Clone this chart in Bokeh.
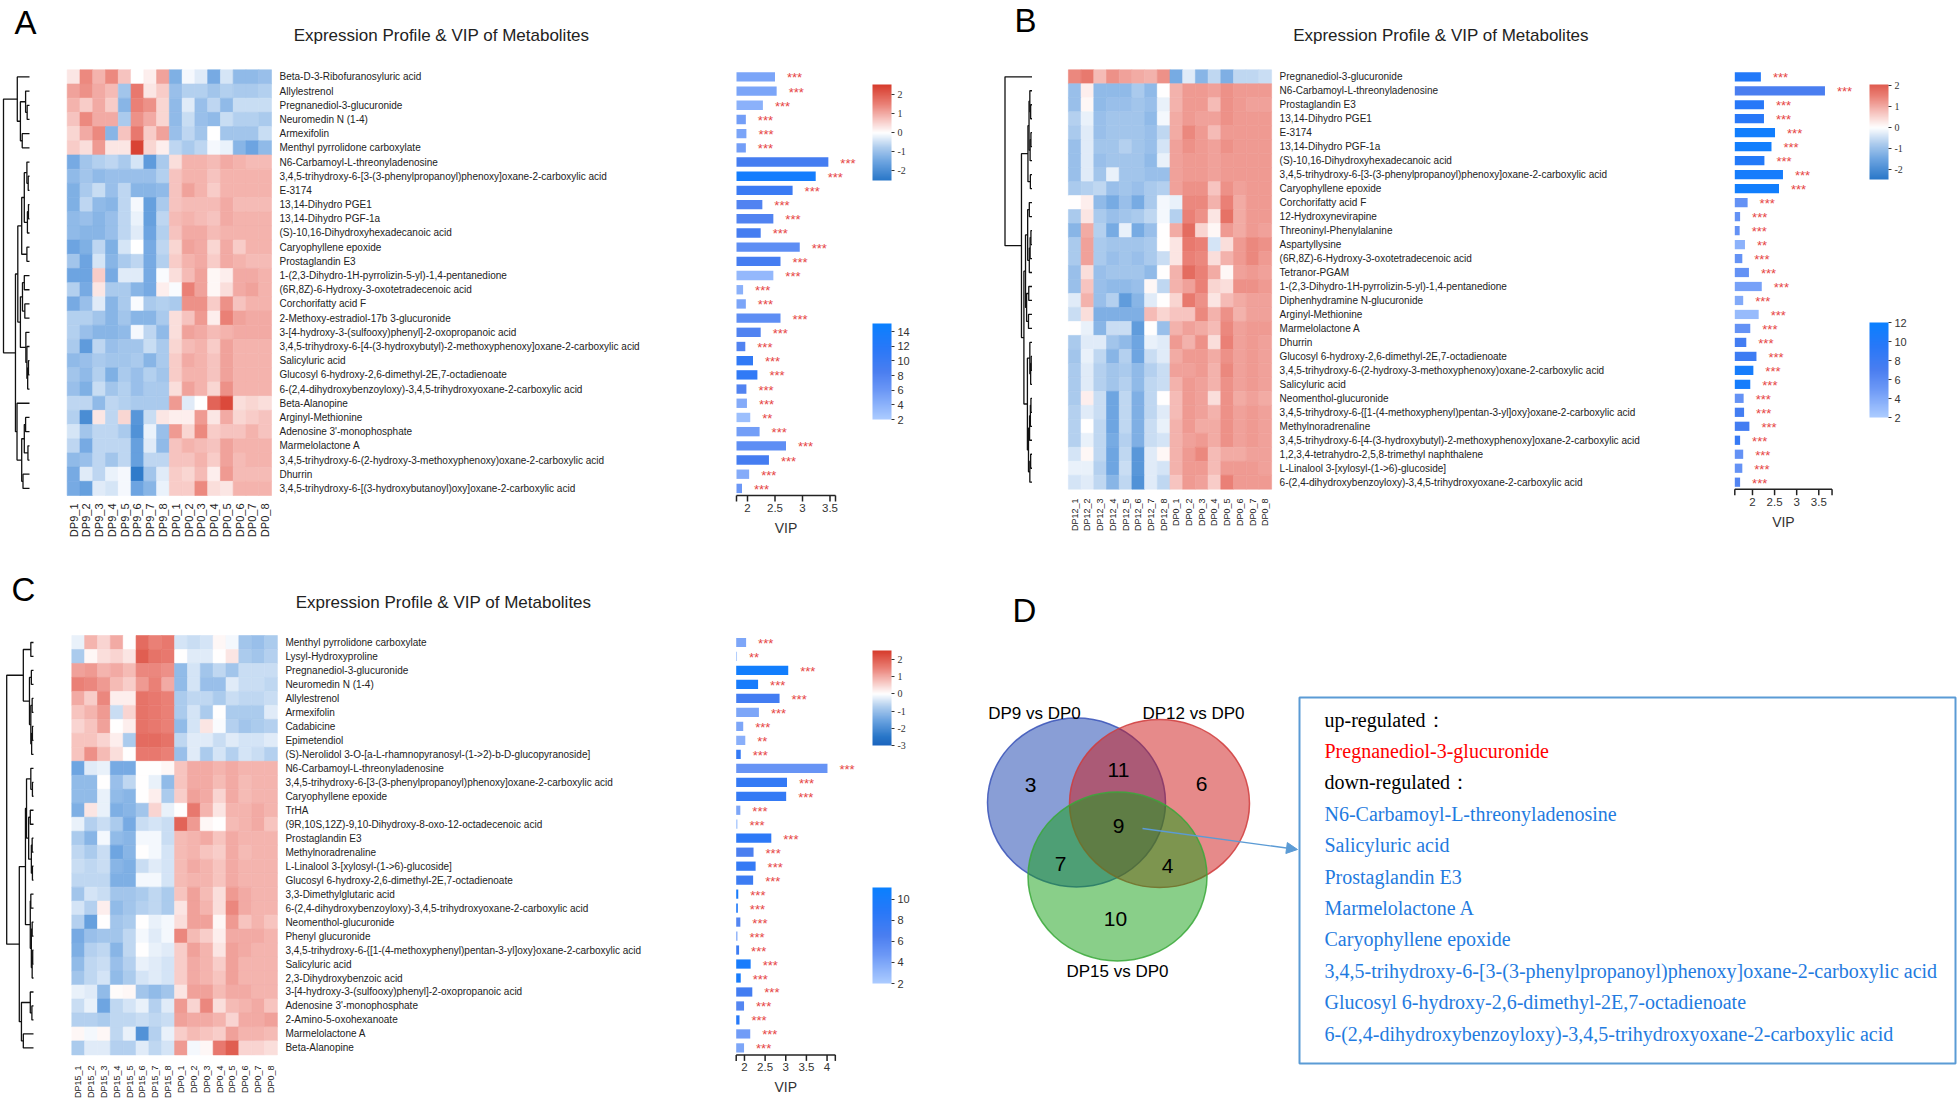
import numpy as np
from bokeh.plotting import figure
from bokeh.models import (Range1d, LinearColorMapper, ColorBar, FixedTicker,
                          ColumnDataSource, Arrow, NormalHead)
from bokeh.layouts import row, column
from bokeh.transform import transform
from bokeh.core.properties import value
from bokeh.embed import file_html
from bokeh.resources import INLINE

# ---------------------------------------------------------------- data
A_SAMPLES = ["DP9_1", "DP9_2", "DP9_3", "DP9_4", "DP9_5", "DP9_6", "DP9_7", "DP9_8",
             "DP0_1", "DP0_2", "DP0_3", "DP0_4", "DP0_5", "DP0_6", "DP0_7", "DP0_8"]
B_SAMPLES = ["DP12_1", "DP12_2", "DP12_3", "DP12_4", "DP12_5", "DP12_6", "DP12_7", "DP12_8",
             "DP0_1", "DP0_2", "DP0_3", "DP0_4", "DP0_5", "DP0_6", "DP0_7", "DP0_8"]
C_SAMPLES = ["DP15_1", "DP15_2", "DP15_3", "DP15_4", "DP15_5", "DP15_6", "DP15_7", "DP15_8",
             "DP0_1", "DP0_2", "DP0_3", "DP0_4", "DP0_5", "DP0_6", "DP0_7", "DP0_8"]

A_METABOLITES = [
    "Beta-D-3-Ribofuranosyluric acid", "Allylestrenol", "Pregnanediol-3-glucuronide",
    "Neuromedin N (1-4)", "Armexifolin", "Menthyl pyrrolidone carboxylate",
    "N6-Carbamoyl-L-threonyladenosine",
    "3,4,5-trihydroxy-6-[3-(3-phenylpropanoyl)phenoxy]oxane-2-carboxylic acid",
    "E-3174", "13,14-Dihydro PGE1", "13,14-Dihydro PGF-1a",
    "(S)-10,16-Dihydroxyhexadecanoic acid", "Caryophyllene epoxide", "Prostaglandin E3",
    "1-(2,3-Dihydro-1H-pyrrolizin-5-yl)-1,4-pentanedione",
    "(6R,8Z)-6-Hydroxy-3-oxotetradecenoic acid", "Corchorifatty acid F",
    "2-Methoxy-estradiol-17b 3-glucuronide",
    "3-[4-hydroxy-3-(sulfooxy)phenyl]-2-oxopropanoic acid",
    "3,4,5-trihydroxy-6-[4-(3-hydroxybutyl)-2-methoxyphenoxy]oxane-2-carboxylic acid",
    "Salicyluric acid", "Glucosyl 6-hydroxy-2,6-dimethyl-2E,7-octadienoate",
    "6-(2,4-dihydroxybenzoyloxy)-3,4,5-trihydroxyoxane-2-carboxylic acid",
    "Beta-Alanopine", "Arginyl-Methionine", "Adenosine 3'-monophosphate", "Marmelolactone A",
    "3,4,5-trihydroxy-6-(2-hydroxy-3-methoxyphenoxy)oxane-2-carboxylic acid", "Dhurrin",
    "3,4,5-trihydroxy-6-[(3-hydroxybutanoyl)oxy]oxane-2-carboxylic acid"]
A_VIP = [2.50, 2.53, 2.28, 1.97, 1.98, 1.97, 3.47, 3.24, 2.82, 2.27, 2.47, 2.24, 2.95, 2.60, 2.47,
         1.92, 1.97, 2.60, 2.24, 1.96, 2.10, 2.18, 1.98, 1.99, 2.05, 2.22, 2.70, 2.39, 2.03, 1.90]
A_SHADE = [5, 5, 4, 5.5, 5, 5.5, 9, 14, 10, 8, 8, 9, 7, 9, 3.5, 4, 5, 7, 8, 8, 11, 11, 8, 4.5, 3,
           5.5, 7, 9, 4.5, 6]
A_STARS = ["***"] * 24 + ["**"] + ["***"] * 5
A_Z = [
    [0.3, 1.4, 0.9, 1.4, 0.7, 0.0, 0.2, 1.1, -1.3, -0.1, -0.3, -1.4, -0.4, -1.1, -1.1, -1.0],
    [1.1, 1.3, 1.0, 0.8, -0.9, 1.6, 0.3, 0.6, -1.0, -0.7, -0.7, -0.9, -0.7, -0.8, -0.8, -0.7],
    [0.9, 0.6, 1.0, 0.6, -1.2, 1.5, 1.3, 0.5, -1.1, -0.3, -1.0, -0.6, -1.1, -0.5, -0.5, -0.5],
    [0.7, 1.4, 1.0, 1.0, -0.8, 1.3, 1.0, 0.5, -1.1, -0.5, -1.0, -1.1, -0.5, -0.7, -0.7, -0.8],
    [0.5, 1.0, 1.4, -1.2, 0.7, 1.6, 0.6, 1.1, -1.0, -0.6, -0.9, 0.0, -0.9, -0.9, -0.9, -0.5],
    [0.6, 0.4, 1.2, 0.3, 0.3, 2.4, 0.5, 0.2, -0.6, -0.8, -0.6, -0.1, -0.2, -1.2, -1.5, -1.1],
    [-1.4, -0.9, -0.7, -0.6, -0.8, -0.4, -1.7, -0.8, 0.4, 0.9, 0.9, 0.8, 1.0, 0.9, 0.8, 0.8],
    [-1.1, -0.9, -1.1, -1.0, -1.0, -1.0, -1.0, -0.7, 0.7, 0.9, 0.9, 0.7, 0.9, 0.9, 0.9, 0.9],
    [-1.3, -0.8, -0.5, -1.0, -0.6, -1.2, -1.2, -1.1, 0.7, 1.1, 0.9, 0.6, 0.9, 0.9, 0.9, 0.9],
    [-1.3, -0.6, -1.1, -1.2, -0.6, -0.1, -1.6, -0.8, 0.7, 0.8, 0.8, 0.8, 1.0, 0.8, 0.8, 0.8],
    [-1.1, -1.0, -1.2, -1.0, -0.6, -0.2, -1.6, -0.6, 0.8, 0.9, 0.8, 0.7, 1.0, 0.9, 0.9, 0.9],
    [-1.1, -1.2, -1.2, -1.0, -0.6, -0.3, -1.5, -0.7, 0.7, 1.0, 1.0, 0.8, 0.9, 0.9, 0.9, 0.9],
    [-1.5, -1.3, -0.6, -1.3, -0.4, 0.0, -1.4, -0.6, 0.5, 1.1, 1.0, 0.5, 1.0, 0.6, 0.9, 0.9],
    [-0.9, -1.5, -0.4, -1.2, -0.8, -0.6, -1.4, -0.7, 0.6, 0.9, 1.0, 0.6, 1.0, 0.9, 0.8, 0.8],
    [-1.5, -1.5, 0.6, -1.4, -0.3, -0.3, -1.4, -0.05, 0.4, 0.8, 1.1, 0.1, 0.2, 1.0, 1.0, 0.9],
    [-0.7, -1.4, 0.3, -0.8, -0.8, -1.2, -1.4, 0.2, -0.05, 1.5, 1.1, 0.1, 0.4, 1.0, 1.1, 0.9],
    [-1.4, -1.0, -0.3, -1.2, -0.8, -0.05, -0.8, -0.7, -0.8, 1.3, 1.3, 0.6, 1.3, 0.7, 0.9, 0.9],
    [-0.7, -0.7, -0.9, -1.2, -0.9, -1.2, -1.2, -0.8, 0.4, 0.7, 1.2, 0.2, 1.5, 1.1, 1.0, 1.0],
    [-0.7, -1.0, -1.2, -1.2, -1.1, -0.1, -0.6, -1.1, 0.4, 1.1, 1.0, 0.8, 0.9, 1.0, 1.0, 1.0],
    [-0.8, -1.7, -0.6, -1.0, -0.9, -0.9, -0.5, -0.8, 0.5, 0.8, 0.9, 0.6, 1.1, 0.9, 0.9, 0.9],
    [-1.1, -1.0, -0.8, -0.9, -0.9, -0.8, -1.2, -0.8, 0.6, 1.0, 0.9, 0.7, 1.1, 0.9, 0.9, 0.9],
    [-0.9, -1.1, -0.7, -1.3, -0.8, -1.0, -0.7, -0.9, 0.6, 0.9, 0.9, 0.7, 1.1, 0.9, 0.9, 0.9],
    [-1.0, -1.3, -0.5, -0.9, -0.7, -1.0, -0.8, -0.8, 0.4, 1.1, 0.9, 0.5, 1.3, 0.9, 0.9, 0.9],
    [-0.6, -0.6, -1.1, -0.6, -0.7, -0.8, -0.8, -0.8, 1.2, -0.3, 0.0, 1.9, 2.3, 0.4, 0.5, 0.4],
    [-0.7, -2.0, 0.3, -0.6, 0.5, -1.8, -0.5, 0.3, 0.2, 0.2, 1.2, 0.3, 1.0, 0.5, 0.6, 0.7],
    [-0.4, -0.9, -0.6, -0.6, -0.8, -1.9, -0.2, -1.0, 1.2, 0.5, 1.4, 0.6, 0.7, 0.7, 0.9, 0.7],
    [-0.6, -1.4, -0.6, -0.6, -0.6, -1.6, -0.3, -1.1, 0.7, 0.9, 0.8, 0.7, 1.1, 0.9, 0.9, 0.9],
    [-1.1, -1.0, -0.6, -0.9, -0.6, -1.6, -0.6, -0.6, 0.7, 0.7, 0.9, 0.6, 1.1, 0.8, 0.9, 0.9],
    [-1.4, -0.3, -0.6, -0.2, -0.1, -2.4, -0.9, -0.3, 0.6, 0.5, 0.8, 0.2, 1.2, 0.8, 0.8, 0.8],
    [-1.4, -1.6, -0.3, -0.4, -0.1, -1.5, -1.2, -0.2, 0.6, 0.6, 1.4, 0.4, 0.3, 0.9, 0.9, 0.9]]
A_TREE = [(2, 3, 0.09), (1, 30, 0.15), (4, 5, 0.28), (31, 32, 0.35), (0, 33, 0.47),
          (7, 8, 0.05), (6, 35, 0.10), (9, 10, 0.04), (37, 11, 0.08), (12, 13, 0.10),
          (36, 38, 0.20), (40, 39, 0.30), (14, 15, 0.20), (16, 17, 0.18), (42, 43, 0.27),
          (20, 21, 0.04), (45, 22, 0.07), (19, 46, 0.10), (18, 47, 0.14), (44, 48, 0.35),
          (41, 49, 0.45), (24, 25, 0.15), (26, 27, 0.06), (51, 52, 0.20), (28, 29, 0.25),
          (53, 54, 0.30), (23, 55, 0.48), (50, 56, 0.54), (34, 57, 1.0)]

B_METABOLITES = [
    "Pregnanediol-3-glucuronide", "N6-Carbamoyl-L-threonyladenosine", "Prostaglandin E3",
    "13,14-Dihydro PGE1", "E-3174", "13,14-Dihydro PGF-1a",
    "(S)-10,16-Dihydroxyhexadecanoic acid",
    "3,4,5-trihydroxy-6-[3-(3-phenylpropanoyl)phenoxy]oxane-2-carboxylic acid",
    "Caryophyllene epoxide", "Corchorifatty acid F", "12-Hydroxynevirapine",
    "Threoninyl-Phenylalanine", "Aspartyllysine", "(6R,8Z)-6-Hydroxy-3-oxotetradecenoic acid",
    "Tetranor-PGAM", "1-(2,3-Dihydro-1H-pyrrolizin-5-yl)-1,4-pentanedione",
    "Diphenhydramine N-glucuronide", "Arginyl-Methionine", "Marmelolactone A", "Dhurrin",
    "Glucosyl 6-hydroxy-2,6-dimethyl-2E,7-octadienoate",
    "3,4,5-trihydroxy-6-(2-hydroxy-3-methoxyphenoxy)oxane-2-carboxylic acid",
    "Salicyluric acid", "Neomenthol-glucuronide",
    "3,4,5-trihydroxy-6-{[1-(4-methoxyphenyl)pentan-3-yl]oxy}oxane-2-carboxylic acid",
    "Methylnoradrenaline",
    "3,4,5-trihydroxy-6-[4-(3-hydroxybutyl)-2-methoxyphenoxy]oxane-2-carboxylic acid",
    "1,2,3,4-tetrahydro-2,5,8-trimethyl naphthalene",
    "L-Linalool 3-[xylosyl-(1->6)-glucoside]",
    "6-(2,4-dihydroxybenzoyloxy)-3,4,5-trihydroxyoxane-2-carboxylic acid"]
B_VIP = [2.19, 3.64, 2.26, 2.26, 2.51, 2.43, 2.27, 2.69, 2.60, 1.89, 1.72, 1.71, 1.83, 1.77, 1.92,
         2.21, 1.79, 2.14, 1.95, 1.86, 2.09, 2.02, 1.95, 1.80, 1.81, 1.93, 1.72, 1.79, 1.77, 1.72]
B_SHADE = [10, 7, 9.5, 9.5, 11.5, 11.5, 10, 11, 11.5, 5.5, 5.5, 5.5, 3.5, 5.5, 5.5, 4.5, 4, 3,
           5.5, 7.5, 8, 11, 11, 5.5, 7.5, 7.5, 8.5, 5.5, 5.5, 6.5]
B_STARS = ["***"] * 12 + ["**"] + ["***"] * 17
B_Z = [
    [1.4, 1.6, 0.8, 1.3, 1.1, 1.0, 0.9, 1.3, -1.4, -0.3, -1.2, -0.6, -1.3, -0.6, -0.6, -0.5],
    [-1.0, 0.2, -1.1, -1.1, -1.1, -0.8, -1.1, 0.0, 0.9, 1.2, 1.2, 1.1, 1.3, 1.2, 1.2, 1.2],
    [-1.0, 0.1, -1.1, -1.0, -1.0, -0.9, -1.0, -0.2, 0.9, 1.2, 1.2, 0.8, 1.3, 1.2, 1.1, 1.1],
    [-0.7, -0.2, -1.0, -0.9, -0.9, -0.9, -1.1, -0.1, 1.0, 1.2, 1.1, 1.1, 1.3, 1.2, 1.2, 1.2],
    [-0.8, -0.3, -1.0, -0.9, -0.9, -0.9, -1.0, -0.6, 1.0, 1.4, 1.2, 0.8, 1.2, 1.2, 1.2, 1.2],
    [-1.0, -0.3, -0.9, -0.9, -0.7, -0.9, -1.0, -0.4, 1.1, 1.3, 1.2, 1.1, 1.3, 1.2, 1.2, 1.2],
    [-1.0, -0.3, -1.0, -0.9, -0.9, -0.9, -1.1, -0.2, 1.1, 1.2, 1.2, 1.1, 1.2, 1.2, 1.2, 1.2],
    [-1.0, -0.3, -0.9, -0.2, -0.9, -0.9, -1.0, -1.0, 1.1, 1.2, 1.2, 1.1, 1.2, 1.2, 1.2, 1.2],
    [-0.8, -0.7, -0.6, -1.0, -0.9, -1.0, -0.8, -0.7, 1.1, 1.3, 1.3, 0.7, 1.3, 1.1, 1.2, 1.2],
    [0.0, 0.2, -1.1, -1.4, -1.0, -1.4, -0.8, -0.1, -0.2, 1.4, 1.4, 0.9, 1.5, 1.0, 1.2, 1.2],
    [-0.8, 0.3, -0.8, -1.0, -0.9, -0.8, -0.6, -0.1, -0.7, 1.5, 1.3, 0.3, 1.7, 1.0, 1.2, 1.2],
    [-1.2, 1.0, -0.7, -1.4, -0.2, -1.4, -1.0, 0.0, 1.0, 1.8, 0.5, 0.1, 1.2, 1.0, 1.2, 1.1],
    [-0.8, 1.1, -0.8, -0.9, -0.9, -0.9, -0.8, 0.0, 0.3, 1.6, 1.5, -0.4, 0.4, 1.2, 1.4, 1.3],
    [-0.8, 1.1, -0.8, -1.0, -0.9, -1.0, -0.8, -0.5, 0.3, 1.5, 1.4, 0.4, 0.9, 1.2, 1.4, 1.2],
    [-1.0, 0.4, -1.0, -0.9, -0.9, -0.9, -1.1, 0.0, 0.9, 1.8, 1.5, 1.0, 0.1, 1.1, 1.2, 1.1],
    [-1.0, 0.7, -1.0, -1.1, -1.1, -1.0, 0.1, -0.6, 0.9, 1.1, 1.5, 0.5, 0.4, 1.3, 1.3, 1.2],
    [-0.3, 0.9, -1.0, -0.7, -1.7, -1.2, -0.3, 0.0, 0.5, 1.6, 1.3, 0.3, 0.8, 1.0, 1.1, 1.1],
    [-0.5, 0.4, -1.3, -1.3, -1.3, -1.3, 0.8, 0.5, 0.7, 0.7, 1.4, 0.9, 1.3, 0.9, 1.1, 1.1],
    [0.0, -0.2, -1.2, -0.5, -0.5, -1.7, 0.0, -1.0, 0.9, 1.1, 1.0, 0.8, 1.4, 1.1, 1.2, 1.2],
    [-0.8, -0.3, -0.3, -0.9, -1.1, -1.5, -0.2, -0.3, 1.2, 0.9, 1.3, 0.4, 1.5, 1.1, 1.2, 1.1],
    [-0.9, -0.2, -0.6, -1.2, -0.7, -1.5, -0.5, -0.3, 1.0, 1.2, 1.2, 1.0, 1.3, 1.1, 1.2, 1.1],
    [-0.8, -0.3, -0.7, -0.9, -0.8, -1.1, -0.7, -0.5, 1.1, 1.1, 1.2, 0.9, 1.4, 1.1, 1.2, 1.1],
    [-0.8, -0.3, -0.7, -0.9, -0.7, -1.1, -0.6, -0.5, 0.9, 1.2, 1.1, 0.9, 1.3, 1.1, 1.2, 1.1],
    [-0.8, 0.2, -0.5, -1.5, -0.6, -1.3, -0.6, 0.0, 0.8, 1.2, 1.1, 0.4, 1.3, 1.0, 1.1, 1.0],
    [-0.7, -0.3, -0.5, -1.5, -0.6, -1.3, -0.6, -0.3, 0.8, 1.2, 1.1, 0.9, 1.3, 1.1, 1.2, 1.1],
    [-0.7, 0.0, -0.6, -1.5, -0.6, -1.3, -0.5, -0.2, 0.9, 1.2, 1.0, 1.0, 1.3, 1.1, 1.2, 1.1],
    [-0.7, -0.2, -0.6, -1.4, -0.7, -1.3, -0.5, -0.4, 0.9, 1.1, 1.2, 1.0, 1.3, 1.1, 1.2, 1.1],
    [-0.4, 0.1, -0.6, -1.5, -0.6, -1.8, -0.3, 0.1, 0.9, 1.2, 1.4, 0.8, 1.0, 1.0, 1.1, 1.1],
    [-0.2, -0.2, -0.7, -1.5, -0.5, -1.8, -0.3, -0.4, 0.9, 1.2, 1.2, 0.8, 1.2, 1.2, 1.2, 1.1],
    [-0.4, -0.3, -0.6, -1.2, -0.6, -1.9, -0.3, -0.6, 0.7, 1.2, 1.1, 0.6, 1.5, 1.2, 1.2, 1.2]]
B_TREE = [(2, 3, 0.05), (1, 30, 0.08), (4, 5, 0.04), (32, 6, 0.07), (31, 33, 0.11),
          (7, 8, 0.06), (34, 35, 0.15), (9, 10, 0.10), (11, 12, 0.04), (38, 13, 0.07),
          (39, 14, 0.10), (37, 40, 0.16), (15, 16, 0.12), (17, 18, 0.13), (42, 43, 0.20),
          (41, 44, 0.24), (20, 21, 0.03), (46, 22, 0.05), (19, 47, 0.08), (23, 24, 0.04),
          (49, 25, 0.06), (50, 26, 0.09), (27, 28, 0.05), (52, 29, 0.08), (51, 53, 0.13),
          (48, 54, 0.17), (45, 55, 0.30), (36, 56, 0.39), (0, 57, 1.0)]

C_METABOLITES = [
    "Menthyl pyrrolidone carboxylate", "Lysyl-Hydroxyproline", "Pregnanediol-3-glucuronide",
    "Neuromedin N (1-4)", "Allylestrenol", "Armexifolin", "Cadabicine", "Epimetendiol",
    "(S)-Nerolidol 3-O-[a-L-rhamnopyranosyl-(1->2)-b-D-glucopyranoside]",
    "N6-Carbamoyl-L-threonyladenosine",
    "3,4,5-trihydroxy-6-[3-(3-phenylpropanoyl)phenoxy]oxane-2-carboxylic acid",
    "Caryophyllene epoxide", "TrHA", "(9R,10S,12Z)-9,10-Dihydroxy-8-oxo-12-octadecenoic acid",
    "Prostaglandin E3", "Methylnoradrenaline", "L-Linalool 3-[xylosyl-(1->6)-glucoside]",
    "Glucosyl 6-hydroxy-2,6-dimethyl-2E,7-octadienoate", "3,3-Dimethylglutaric acid",
    "6-(2,4-dihydroxybenzoyloxy)-3,4,5-trihydroxyoxane-2-carboxylic acid",
    "Neomenthol-glucuronide", "Phenyl glucuronide",
    "3,4,5-trihydroxy-6-{[1-(4-methoxyphenyl)pentan-3-yl]oxy}oxane-2-carboxylic acid",
    "Salicyluric acid", "2,3-Dihydroxybenzoic acid",
    "3-[4-hydroxy-3-(sulfooxy)phenyl]-2-oxopropanoic acid", "Adenosine 3'-monophosphate",
    "2-Amino-5-oxohexanoate", "Marmelolactone A", "Beta-Alanopine"]
C_VIP = [2.04, 1.82, 3.06, 2.33, 2.85, 2.35, 1.97, 2.02, 1.91, 4.01, 3.03, 3.01, 1.90, 1.83, 2.65,
         2.22, 2.27, 2.21, 1.85, 1.84, 1.90, 1.83, 1.87, 2.15, 1.91, 2.19, 1.99, 1.88, 2.14, 1.99]
C_SHADE = [4, 2.5, 10.5, 10, 7, 4, 4, 3.5, 8, 5, 8, 8, 4, 2.5, 8.5, 6.5, 8, 7.5, 10, 9.5, 6, 4,
           7.5, 10, 10, 7, 6, 9, 4.5, 4]
C_STARS = ["***", "**"] + ["***"] * 5 + ["**"] + ["***"] * 22
C_Z = [
    [-0.2, 0.9, 0.5, 1.0, 0.0, 1.8, 1.5, 1.6, -0.4, -0.5, -0.4, 0.1, -0.1, -0.9, -1.0, -0.8],
    [-0.8, 0.1, 0.4, 0.5, 0.3, 2.0, 1.7, 1.6, 0.0, -0.3, -0.3, 0.0, 0.3, -0.8, -0.9, -0.7],
    [1.1, 1.2, 0.9, 1.0, 0.8, 1.4, 1.4, 1.3, -1.1, -0.4, -0.9, -0.6, -0.9, -0.5, -0.5, -0.5],
    [1.5, 1.4, 1.2, 0.8, 0.6, 1.2, 1.5, 1.0, -1.1, -0.4, -1.0, -1.0, -0.3, -0.5, -0.5, -0.6],
    [1.0, 0.6, 1.4, 0.2, 0.2, 1.7, 1.6, 1.5, -0.8, -0.6, -0.6, -0.8, -0.5, -0.6, -0.6, -0.5],
    [0.7, 0.9, 1.2, -0.5, 0.5, 1.7, 1.6, 1.5, -0.8, -0.4, -0.8, 0.0, -0.8, -0.8, -0.8, -0.3],
    [0.5, 0.7, 1.1, 0.0, 0.2, 1.7, 1.6, 1.5, -1.1, -0.4, 0.3, -0.05, -0.7, -0.9, -0.8, -0.7],
    [0.7, 0.7, 0.5, 0.2, -0.8, 1.8, 1.8, 1.7, -0.6, -0.3, -0.3, -0.5, -0.3, -0.4, -0.4, -0.3],
    [0.7, 1.3, 0.8, 0.4, 0.0, 1.6, 1.6, 1.5, -1.0, -0.3, -0.8, -0.4, -0.7, -0.4, -0.5, -0.7],
    [-1.5, -0.3, -0.2, -1.4, -1.4, 0.0, 0.0, 0.1, 0.7, 1.0, 1.0, 0.9, 1.0, 0.9, 0.9, 0.9],
    [-1.1, -1.1, 0.0, -1.0, -0.6, 0.0, -0.2, -1.1, 0.7, 1.0, 1.0, 0.8, 1.0, 0.8, 0.9, 0.9],
    [-1.1, -1.1, -0.2, -1.1, -1.2, 0.0, 0.2, -0.8, 0.6, 1.1, 1.0, 0.5, 1.0, 0.8, 0.9, 0.9],
    [-1.3, 0.3, -0.2, -1.3, -1.2, -0.9, 0.5, -0.2, 0.0, 1.6, 0.9, 0.3, 0.9, 0.9, 1.0, 0.9],
    [-0.2, -0.7, -0.5, -0.8, -1.4, -0.5, -0.4, -0.5, 1.9, 1.2, 0.1, 0.0, 0.8, 0.9, 1.0, 0.7],
    [-0.8, -1.2, -0.1, -1.1, -1.2, -0.1, -0.1, -0.5, 0.8, 0.9, 1.0, 0.7, 1.0, 0.9, 0.9, 0.9],
    [-0.6, -0.8, -0.5, -1.5, -1.2, 0.0, -0.1, -0.4, 0.8, 0.9, 0.7, 0.6, 1.0, 0.8, 0.9, 0.9],
    [-0.5, -0.6, -0.5, -1.2, -1.3, -0.5, -0.3, -0.4, 0.8, 1.0, 0.9, 0.7, 1.0, 0.9, 0.9, 0.9],
    [-0.6, -0.6, -0.6, -1.3, -1.3, -0.1, -0.1, -0.4, 0.8, 0.9, 0.9, 0.7, 1.0, 0.9, 0.9, 0.9],
    [-0.9, -0.4, -0.5, -0.9, -0.9, -0.8, -0.6, -0.8, 0.7, 1.1, 0.8, 0.4, 1.2, 1.0, 0.9, 0.9],
    [-0.4, -0.7, 0.2, -1.1, -0.9, -0.7, -0.6, -0.8, 0.3, 1.1, 0.9, 0.4, 1.4, 1.0, 0.9, 0.9],
    [-0.7, -1.6, 0.0, -0.9, -0.8, 0.0, -0.2, -0.1, 0.4, 1.1, 1.1, 0.1, 1.2, 0.7, 0.9, 0.7],
    [-1.4, -1.0, -0.9, -0.9, -0.6, -0.1, -0.3, -0.1, 1.4, 0.8, 0.6, 0.2, 1.0, 1.0, 1.0, 0.9],
    [-1.3, -0.7, -0.6, -1.2, -0.6, 0.0, -0.2, -0.3, 0.6, 1.1, 0.9, 0.3, 1.1, 1.0, 0.9, 0.9],
    [-1.1, -0.6, -0.5, -1.0, -0.7, -0.2, -0.3, -0.4, 0.6, 1.0, 0.9, 0.6, 1.1, 0.9, 0.9, 0.9],
    [-0.9, -0.6, -0.4, -1.1, -0.8, -0.4, -0.3, -0.4, 0.6, 1.0, 0.9, 0.7, 1.1, 0.9, 0.9, 0.9],
    [-0.2, -0.3, -1.1, 0.05, 0.1, -0.9, -1.1, -0.9, 0.3, 1.1, 1.1, 0.8, 1.0, 1.0, 0.9, 0.9],
    [-0.5, -0.2, -1.5, -0.6, -0.4, -0.2, -0.7, -0.3, 1.2, 0.5, 1.4, 0.4, 0.8, 0.9, 1.0, 0.7],
    [-0.7, -0.7, -0.8, -0.6, -0.6, -0.5, -0.6, -0.5, 1.1, 1.0, 1.0, 0.9, 0.5, 1.0, 1.0, 1.1],
    [0.1, -0.1, 0.1, -0.6, -0.2, -1.9, -0.7, -0.2, 0.6, 0.8, 0.7, 0.6, 1.1, 0.9, 0.9, 0.8],
    [-0.8, -0.3, -0.3, -0.7, -0.7, -0.3, -0.6, -0.4, 1.2, -0.1, 0.1, 1.6, 2.0, 0.5, 0.5, 0.4]]
C_TREE = [(0, 1, 0.10), (2, 3, 0.08), (4, 5, 0.05), (6, 7, 0.04), (33, 8, 0.07),
          (32, 34, 0.10), (31, 35, 0.15), (30, 36, 0.38), (10, 11, 0.04), (9, 38, 0.10),
          (12, 13, 0.12), (14, 15, 0.05), (16, 17, 0.04), (41, 42, 0.08), (40, 43, 0.18),
          (39, 44, 0.26), (18, 19, 0.10), (20, 21, 0.05), (22, 23, 0.03), (48, 24, 0.05),
          (47, 49, 0.08), (46, 50, 0.12), (45, 51, 0.30), (26, 27, 0.06), (25, 53, 0.12),
          (28, 29, 0.38), (54, 55, 0.45), (52, 56, 0.53), (37, 57, 1.0)]

VENN_SETS = ["DP9 vs DP0", "DP12 vs DP0", "DP15 vs DP0"]
VENN_REGIONS = ["DP9 only", "DP9&DP12", "DP12 only", "all three", "DP9&DP15", "DP12&DP15",
                "DP15 only"]
VENN_COUNTS = [3, 11, 6, 9, 7, 4, 10]
UP_REGULATED = ["Pregnanediol-3-glucuronide"]
DOWN_REGULATED = ["N6-Carbamoyl-L-threonyladenosine", "Salicyluric acid", "Prostaglandin E3",
                  "Marmelolactone A", "Caryophyllene epoxide",
                  "3,4,5-trihydroxy-6-[3-(3-phenylpropanoyl)phenoxy]oxane-2-carboxylic acid",
                  "Glucosyl 6-hydroxy-2,6-dimethyl-2E,7-octadienoate",
                  "6-(2,4-dihydroxybenzoyloxy)-3,4,5-trihydroxyoxane-2-carboxylic acid"]

# ---------------------------------------------------------------- styles
SANS = value("Liberation Sans")
SERIF = value("Liberation Serif")
INK = "#222222"
Z_STOPS = [(-3.0, (28, 100, 190)), (-2.5, (40, 118, 200)), (-1.5, (110, 165, 225)),
           (-0.75, (175, 205, 238)), (0.0, (255, 255, 255)), (0.75, (246, 192, 187)),
           (1.5, (234, 128, 118)), (2.5, (215, 60, 45))]
V_STOPS = [(0.0, (172, 204, 255)), (0.3, (108, 152, 246)), (0.5, (74, 126, 240)),
           (0.75, (40, 120, 248)), (1.0, (10, 128, 255))]


def interp_palette(stops, lo, hi, n=256):
    sv = np.array([s[0] for s in stops], float)
    sc = np.array([s[1] for s in stops], float)
    xs = np.linspace(lo, hi, n)
    cols = np.stack([np.interp(xs, sv, sc[:, k]) for k in range(3)], axis=1)
    return ["#%02x%02x%02x" % tuple(int(round(c)) for c in cc) for cc in cols]


def heat_mapper(lo, hi):
    return LinearColorMapper(palette=interp_palette(Z_STOPS, lo, hi), low=lo, high=hi)


def vip_mapper(lo, hi):
    return LinearColorMapper(palette=interp_palette(V_STOPS, 0.0, 1.0), low=lo, high=hi)


def tree_segments(merges, n):
    ypos = {i: i + 0.5 for i in range(n)}
    hpos = {i: 0.0 for i in range(n)}
    xs, ys = [], []
    for k, (a, b, h) in enumerate(merges):
        ya, yb = ypos[a], ypos[b]
        xs.append([hpos[a], h, h, hpos[b]])
        ys.append([ya, ya, yb, yb])
        ypos[n + k] = (ya + yb) / 2.0
        hpos[n + k] = h
    return xs, ys


def panel(g):
    W, H = g["W"], g["H"]
    left, top, colw, rowh = g["heat_left"], g["heat_top"], g["colw"], g["rowh"]
    names, samples, z = g["names"], g["samples"], np.array(g["z"])
    nr, nc = len(names), len(samples)
    p = figure(width=W, height=H, x_range=Range1d(-left / colw, (W - left) / colw),
               y_range=Range1d((H - top) / rowh, -top / rowh),
               x_axis_location=None, y_axis_location=None, toolbar_location=None,
               output_backend="svg", min_border=0, outline_line_color=None)
    p.xgrid.visible = False
    p.ygrid.visible = False
    px2x = lambda px: (px - left) / colw
    py2y = lambda py: (py - top) / rowh

    # heatmap
    hmap = heat_mapper(*g["heat_lim"])
    src = ColumnDataSource(dict(
        x=[c + 0.5 for r in range(nr) for c in range(nc)],
        y=[r + 0.5 for r in range(nr) for c in range(nc)],
        z=[float(z[r, c]) for r in range(nr) for c in range(nc)]))
    p.rect(x="x", y="y", width=1, height=1, source=src, fill_color=transform("z", hmap),
           line_color=transform("z", hmap), line_width=0.6)
    p.text(x=[nc] * nr, y=[r + 0.5 for r in range(nr)], text=names, x_offset=8,
           text_baseline="middle", text_align="left", text_font=SANS,
           text_font_size="10px", text_color=INK)
    p.text(x=[c + 0.5 for c in range(nc)], y=[py2y(g["col_top"])] * nc, text=samples,
           angle=np.pi / 2, text_align="right", text_baseline="middle", text_font=SANS,
           text_font_size=g["col_font"], text_color=INK)

    # dendrogram
    leaf, root = g["tree_px"]
    span = leaf - root
    p.extra_x_ranges["tree"] = Range1d(leaf / span, (leaf - W) / span)
    tx, ty = tree_segments(g["tree"], nr)
    p.multi_line(xs=tx, ys=ty, x_range_name="tree", line_color="#111111", line_width=1.3)

    # title & letter
    p.text(x=[px2x(g["title_px"][0])], y=[py2y(g["title_px"][1])],
           text=["Expression Profile & VIP of Metabolites"], text_align="center",
           text_baseline="middle", text_font=SANS, text_font_size="17px", text_color=INK)
    p.text(x=[px2x(g["letter_px"][0])], y=[py2y(g["letter_px"][1])], text=[g["letter"]],
           text_align="left", text_baseline="middle", text_font=SANS,
           text_font_size="33px", text_color="#000000")

    # VIP bars on their own scale
    v0, vpx, vs = g["vip_origin"]
    p.extra_x_ranges["vip"] = Range1d(v0 - vpx / vs, v0 + (W - vpx) / vs)
    vmap = vip_mapper(*g["shade_lim"])
    rows = [r + 0.5 for r in range(nr)]
    bsrc = ColumnDataSource(dict(y=rows, vip=g["vip"], shade=g["shade"], stars=g["stars"]))
    p.hbar(y="y", left=v0, right="vip", height=0.66, source=bsrc, x_range_name="vip",
           fill_color=transform("shade", vmap), line_color=None)
    p.text(x="vip", y="y", text="stars", source=bsrc, x_range_name="vip", x_offset=12,
           y_offset=1, text_align="left", text_baseline="middle", text_font=SANS,
           text_font_size="13px", text_color="#e64545")

    # VIP axis
    b0, b1 = g["bounds"]
    ticks = g["ticks"]
    allt = [b0] + ticks + [b1]
    p.segment(x0=[b0], y0=[nr], x1=[b1], y1=[nr], x_range_name="vip", line_color=INK,
              line_width=1.5)
    p.segment(x0=allt, y0=[nr] * len(allt), x1=allt, y1=[nr + 6 / rowh] * len(allt),
              x_range_name="vip", line_color=INK, line_width=1.5)
    p.text(x=ticks, y=[nr + 12.5 / rowh] * len(ticks), text=["%g" % t for t in ticks],
           x_range_name="vip", text_align="center", text_baseline="middle", text_font=SANS,
           text_font_size="11.5px", text_color="#333333")
    p.text(x=[(b0 + b1) / 2], y=[nr + 32.5 / rowh], text=["VIP"], x_range_name="vip",
           text_align="center", text_baseline="middle", text_font=SANS,
           text_font_size="14px", text_color="#333333")

    # colour bars
    cbx = g["cb_x"]

    def cbar(mapper, tks, y, h, font, fsize):
        return ColorBar(color_mapper=mapper, location=(cbx, y), width=19, height=h,
                        padding=0, margin=0, ticker=FixedTicker(ticks=tks),
                        major_label_overrides={t: ("-%d" % -t if t < 0 else "%d" % t)
                                               for t in tks},
                        major_label_text_font=font, major_label_text_font_size=fsize,
                        major_label_text_color="#333333", major_tick_in=0, major_tick_out=3,
                        major_tick_line_color="#333333", bar_line_color=None,
                        border_line_color=None, background_fill_alpha=0, label_standoff=3)
    y1, h1 = g["cb_heat"]
    y2, h2 = g["cb_shade"]
    p.add_layout(cbar(hmap, g["heat_ticks"], y1, h1, "Liberation Serif", "10px"))
    p.add_layout(cbar(vmap, g["shade_ticks"], y2, h2, "Liberation Sans", "11px"))
    return p


A = panel(dict(W=990, H=565, heat_left=66.7, heat_top=69.3, colw=12.77, rowh=14.19,
               names=A_METABOLITES, samples=A_SAMPLES, z=A_Z, heat_lim=(-2.5, 2.52),
               col_top=503, col_font="11px", tree=A_TREE, tree_px=(29, 3),
               title_px=(441, 35), letter="A", letter_px=(14, 22),
               vip_origin=(1.8, 736, 55.0), vip=A_VIP, shade=A_SHADE, stars=A_STARS,
               shade_lim=(2, 15.1), bounds=(1.8, 3.6), ticks=[2, 2.5, 3, 3.5],
               cb_x=872, cb_heat=(385, 96), cb_shade=(146, 96),
               heat_ticks=[-2, -1, 0, 1, 2], shade_ticks=[2, 4, 6, 8, 10, 12, 14]))

B = panel(dict(W=968, H=565, heat_left=77.9, heat_top=69.3, colw=12.7, rowh=13.98,
               names=B_METABOLITES, samples=B_SAMPLES, z=B_Z, heat_lim=(-2.48, 2.05),
               col_top=498, col_font="9px", tree=B_TREE, tree_px=(41.5, 14.5),
               title_px=(450.5, 35), letter="B", letter_px=(24, 20),
               vip_origin=(1.6, 744.3, 44.2), vip=B_VIP, shade=B_SHADE, stars=B_STARS,
               shade_lim=(2, 12.05), bounds=(1.6, 3.8), ticks=[2, 2.5, 3, 3.5],
               cb_x=879, cb_heat=(386, 95), cb_shade=(148, 95),
               heat_ticks=[-2, -1, 0, 1, 2], shade_ticks=[2, 4, 6, 8, 10, 12]))

C = panel(dict(W=975, H=541, heat_left=71.3, heat_top=70.0, colw=12.85, rowh=13.98,
               names=C_METABOLITES, samples=C_SAMPLES, z=C_Z, heat_lim=(-3.0, 2.52),
               col_top=500, col_font="9px", tree=C_TREE, tree_px=(33, 6.2),
               title_px=(443, 36.7), letter="C", letter_px=(11, 24),
               vip_origin=(1.8, 735.7, 41.3), vip=C_VIP, shade=C_SHADE, stars=C_STARS,
               shade_lim=(2, 11.1), bounds=(1.8, 4.2), ticks=[2, 2.5, 3, 3.5, 4],
               cb_x=872, cb_heat=(361, 95), cb_shade=(123, 96),
               heat_ticks=[-3, -2, -1, 0, 1, 2], shade_ticks=[2, 4, 6, 8, 10]))

# ---------------------------------------------------------------- Venn (D)
D = figure(width=983, height=541, x_range=Range1d(975, 1958), y_range=Range1d(1106, 565),
           x_axis_location=None, y_axis_location=None, toolbar_location=None,
           output_backend="svg", min_border=0, outline_line_color=None)
D.xgrid.visible = False
D.ygrid.visible = False
D.ellipse(x=[1076, 1159, 1117], y=[802, 803, 876], width=[178, 180, 179],
          height=[169, 168, 169], fill_color=["#133dad", "#cd1515", "#139f13"],
          fill_alpha=0.5, line_color=["#3a54b8", "#d03c3c", "#3aa83a"], line_alpha=0.85,
          line_width=1.5)
D.text(x=[1030, 1118, 1201, 1118, 1060, 1167, 1115], y=[784, 769, 783, 825, 863, 865, 918],
       text=[str(v) for v in VENN_COUNTS], text_align="center", text_baseline="middle",
       text_font=SANS, text_font_size="21px", text_color="#000000")
D.text(x=[1034, 1193, 1117], y=[713, 713, 971], text=VENN_SETS, text_align="center",
       text_baseline="middle", text_font=SANS, text_font_size="17px", text_color="#000000")
D.text(x=[1012], y=[610], text=["D"], text_align="left", text_baseline="middle",
       text_font=SANS, text_font_size="33px", text_color="#000000")
D.add_layout(Arrow(end=NormalHead(size=11, fill_color="#5b9bd5", line_color="#5b9bd5"),
                   x_start=1142, y_start=828, x_end=1297, y_end=849,
                   line_color="#5b9bd5", line_width=1.3))
D.quad(left=[1299], right=[1955], top=[697], bottom=[1063], fill_color=None,
       line_color="#5b9bd5", line_width=2)
box_lines = ["up-regulated："] + UP_REGULATED + ["down-regulated："] + DOWN_REGULATED
box_colors = ["#000000"] + ["#ff0000"] * len(UP_REGULATED) + ["#000000"] + \
             ["#1f7be0"] * len(DOWN_REGULATED)
D.text(x=[1324] * len(box_lines), y=[719 + 31.4 * i for i in range(len(box_lines))],
       text=box_lines, text_color=box_colors, text_align="left", text_baseline="middle",
       text_font=SERIF, text_font_size="20px")

layout = column(row(A, B), row(C, D))

with open("out.html", "w") as f:
    f.write(file_html(layout, INLINE, "Expression Profile & VIP of Metabolites"))
